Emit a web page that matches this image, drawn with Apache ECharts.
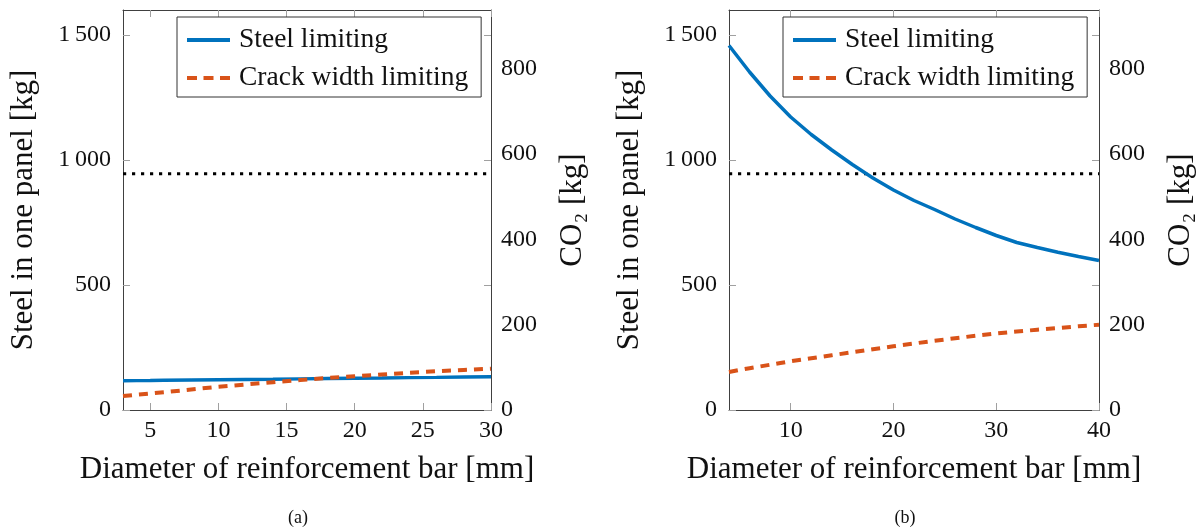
<!DOCTYPE html>
<html>
<head>
<meta charset="utf-8">
<script src="https://cdn.jsdelivr.net/npm/echarts@6/dist/echarts.min.js"></script>
<style>
html,body{margin:0;padding:0;background:#fff;}
#chart{width:1199px;height:531px;}
</style>
</head>
<body>
<div id="chart"></div>
<script>
// ---- data ----
const xA = [3, 4, 5, 6, 8, 10, 12, 14, 16, 18, 20, 22, 24, 26, 28, 30];
const steelA = [117, 117.5, 118, 119, 120, 121, 122, 123, 124.5, 126, 127, 128, 129.5, 130.5, 132, 133];
const crackA = [56, 61, 66, 71, 82, 93, 102, 111, 120, 128, 135, 142, 149, 155, 160, 165];

const xB = [4, 5, 6, 7, 8, 9, 10, 12, 14, 16, 18, 20, 22, 24, 26, 28, 30, 32, 34, 36, 38, 40];
const steelB = [1458, 1405, 1352, 1304, 1256, 1214, 1172, 1102, 1040, 982, 928, 880, 838, 802, 764, 730, 698, 670, 650, 631, 614, 598];
const crackB = [152, 160, 167, 174, 181, 188, 195, 207, 219, 231, 243, 255, 266, 277, 287, 297, 306, 314, 321, 328, 335, 341];

const limitSteel = 945;

const xTicksA = [5, 10, 15, 20, 25, 30];
const xTicksB = [10, 20, 30, 40];
const steelTicks = [0, 500, 1000, 1500];
const co2Ticks = [0, 200, 400, 600, 800];

const seriesNames = ['Steel limiting', 'Crack width limiting'];
const xTitle = 'Diameter of reinforcement bar [mm]';
const yTitle = 'Steel in one panel [kg]';
const y2Title = 'CO\u2082 [kg]';
const captions = ['(a)', '(b)'];

// ---- styling ----
const FONT = '"Liberation Serif", "DejaVu Serif", serif';
const BLUE = '#0072BD';
const ORANGE = '#D95319';
const FRAME = '#404040';
const TICK = '#a0a0a0';
const ICON_SOLID = 'path://M0,0h43v4h-43z';
const ICON_DASH = 'path://M0,0h10v4h-10z M16.5,0h10v4h-10z M33,0h10v4h-10z';

const panels = [
  {left: 123, width: 368, xmin: 3, xmax: 30, xs: xA, steel: steelA, crack: crackA, xticks: xTicksA, legendLeft: 177, capX: 298},
  {left: 729, width: 370, xmin: 4, xmax: 40, xs: xB, steel: steelB, crack: crackB, xticks: xTicksB, legendLeft: 783, capX: 905}
];

function fmtThousands(v) {
  if (v >= 1000) {
    const s = String(v);
    return s.slice(0, s.length - 3) + '\u2009' + s.slice(s.length - 3);
  }
  return String(v);
}

const grid = [], xAxis = [], yAxis = [], series = [], legend = [], graphic = [];

panels.forEach((p, i) => {
  grid.push({left: p.left, top: 10, width: p.width, height: 400, containLabel: false, outerBoundsMode: 'none', show: false});
  xAxis.push({
    type: 'value', gridIndex: i, position: 'bottom', min: p.xmin, max: p.xmax,
    name: xTitle, nameLocation: 'middle', nameGap: 44,
    nameTextStyle: {fontFamily: FONT, fontSize: 31, color: '#111'},
    axisLine: {show: true, onZero: false, lineStyle: {color: FRAME, width: 1}},
    axisTick: {show: true, inside: true, length: 7, customValues: p.xticks, lineStyle: {color: TICK}},
    axisLabel: {show: true, customValues: p.xticks, margin: 9, fontFamily: FONT, fontSize: 24, color: '#111'},
    splitLine: {show: false}
  });
  xAxis.push({
    type: 'value', gridIndex: i, position: 'top', min: p.xmin, max: p.xmax,
    axisLine: {show: true, onZero: false, lineStyle: {color: FRAME, width: 1}},
    axisTick: {show: true, inside: true, length: 7, customValues: p.xticks, lineStyle: {color: TICK}},
    axisLabel: {show: false}, splitLine: {show: false}
  });
  yAxis.push({
    type: 'value', gridIndex: i, position: 'left', min: 0, max: 1600,
    name: yTitle, nameLocation: 'middle', nameGap: 84, nameRotate: 90,
    nameTextStyle: {fontFamily: FONT, fontSize: 31, color: '#111'},
    axisLine: {show: true, onZero: false, lineStyle: {color: FRAME, width: 1}},
    axisTick: {show: true, inside: true, length: 7, customValues: steelTicks, lineStyle: {color: TICK}},
    axisLabel: {show: true, customValues: steelTicks, margin: 12, fontFamily: FONT, fontSize: 24, color: '#111', formatter: fmtThousands},
    splitLine: {show: false}
  });
  yAxis.push({
    type: 'value', gridIndex: i, position: 'right', min: 0, max: 937,
    name: y2Title, nameLocation: 'middle', nameGap: 66, nameRotate: 90,
    nameTextStyle: {fontFamily: FONT, fontSize: 31, color: '#111'},
    axisLine: {show: false},
    axisTick: {show: false},
    axisLabel: {show: true, customValues: co2Ticks, margin: 10, fontFamily: FONT, fontSize: 24, color: '#111'},
    splitLine: {show: false}
  });
  yAxis.push({
    type: 'value', gridIndex: i, position: 'right', min: 0, max: 1600,
    axisLine: {show: true, onZero: false, lineStyle: {color: FRAME, width: 1}},
    axisTick: {show: true, inside: true, length: 7, customValues: steelTicks, lineStyle: {color: TICK}},
    axisLabel: {show: false}, splitLine: {show: false}
  });

  const xi = i * 2, yi = i * 3;
  series.push({
    type: 'line', name: 'limit', xAxisIndex: xi, yAxisIndex: yi, symbol: 'none', silent: true,
    data: [[p.xmin, limitSteel], [p.xmax, limitSteel]],
    lineStyle: {color: '#000', width: 3.2, type: [3.2, 5.8]}, z: 2
  });
  series.push({
    type: 'line', name: seriesNames[0], xAxisIndex: xi, yAxisIndex: yi, symbol: 'none',
    data: p.xs.map((x, k) => [x, p.steel[k]]),
    itemStyle: {color: BLUE},
    lineStyle: {color: BLUE, width: 3.5, type: 'solid'}, z: 3
  });
  series.push({
    type: 'line', name: seriesNames[1], xAxisIndex: xi, yAxisIndex: yi, symbol: 'none',
    data: p.xs.map((x, k) => [x, p.crack[k]]),
    itemStyle: {color: ORANGE},
    lineStyle: {color: ORANGE, width: 4, type: [9, 7]}, z: 3
  });

  legend.push({
    data: [{name: seriesNames[0], icon: ICON_SOLID}, {name: seriesNames[1], icon: ICON_DASH}],
    orient: 'vertical', left: p.legendLeft, top: 17,
    backgroundColor: '#fff', borderColor: '#333', borderWidth: 1, borderRadius: 0,
    padding: [9, 13, 5, 10], itemGap: 10, itemWidth: 43, itemHeight: 4,
    selectedMode: false,
    textStyle: {fontFamily: FONT, fontSize: 27.5, color: '#111', lineHeight: 26, padding: [0, 0, 0, 4]}
  });

  graphic.push({
    type: 'text', x: p.capX, y: 518,
    style: {text: captions[i], font: '18px ' + FONT, fill: '#111', align: 'center', verticalAlign: 'middle'}
  });
});

const chart = echarts.init(document.getElementById('chart'), null, {renderer: 'canvas'});
chart.setOption({
  animation: false,
  backgroundColor: '#fff',
  grid, xAxis, yAxis, series, legend, graphic
});
</script>
</body>
</html>
